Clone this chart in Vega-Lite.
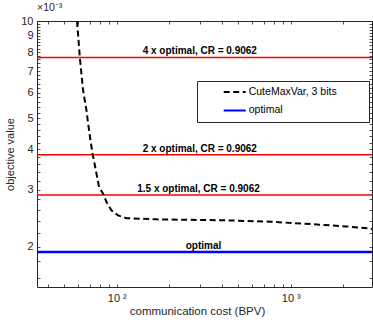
{
  "$schema": "https://vega.github.io/schema/vega-lite/v6.json",
  "width": 335,
  "height": 266,
  "autosize": {"type": "none"},
  "padding": {"left": 37, "top": 21, "right": 1, "bottom": 37},
  "background": "white",
  "view": {"stroke": null},
  "config": {
    "font": "Liberation Sans",
    "axis": {"grid": false, "domainColor": "#262626", "domainWidth": 1, "tickColor": "#262626", "tickWidth": 0.8, "labelColor": "#262626", "titleColor": "#262626", "labelFont": "Liberation Sans", "titleFont": "Liberation Sans", "titleFontWeight": "normal"}
  },
  "title": {"text": "×10⁻³", "anchor": "start", "frame": "group", "fontSize": 10.5, "fontWeight": "normal", "color": "#262626", "offset": 2, "font": "Liberation Sans"},
  "datasets": {
    "curve": [
      {"cost": 59.1, "objective": 0.0100, "series": "CuteMaxVar, 3 bits"},
      {"cost": 61.3, "objective": 0.00775, "series": "CuteMaxVar, 3 bits"},
      {"cost": 64.0, "objective": 0.00611, "series": "CuteMaxVar, 3 bits"},
      {"cost": 66.9, "objective": 0.00530, "series": "CuteMaxVar, 3 bits"},
      {"cost": 68.4, "objective": 0.00483, "series": "CuteMaxVar, 3 bits"},
      {"cost": 70.6, "objective": 0.00428, "series": "CuteMaxVar, 3 bits"},
      {"cost": 72.5, "objective": 0.00390, "series": "CuteMaxVar, 3 bits"},
      {"cost": 75.8, "objective": 0.00345, "series": "CuteMaxVar, 3 bits"},
      {"cost": 79.1, "objective": 0.00306, "series": "CuteMaxVar, 3 bits"},
      {"cost": 83.4, "objective": 0.00292, "series": "CuteMaxVar, 3 bits"},
      {"cost": 87.3, "objective": 0.00275, "series": "CuteMaxVar, 3 bits"},
      {"cost": 93.2, "objective": 0.00259, "series": "CuteMaxVar, 3 bits"},
      {"cost": 101.7, "objective": 0.00250, "series": "CuteMaxVar, 3 bits"},
      {"cost": 113.7, "objective": 0.00245, "series": "CuteMaxVar, 3 bits"},
      {"cost": 169.1, "objective": 0.00243, "series": "CuteMaxVar, 3 bits"},
      {"cost": 408, "objective": 0.002415, "series": "CuteMaxVar, 3 bits"},
      {"cost": 757, "objective": 0.00239, "series": "CuteMaxVar, 3 bits"},
      {"cost": 1468, "objective": 0.00234, "series": "CuteMaxVar, 3 bits"},
      {"cost": 2090, "objective": 0.00231, "series": "CuteMaxVar, 3 bits"},
      {"cost": 2782, "objective": 0.00228, "series": "CuteMaxVar, 3 bits"},
      {"cost": 2930, "objective": 0.00227, "series": "CuteMaxVar, 3 bits"}
    ],
    "refs": [
      {"label": "4 x optimal, CR = 0.9062", "objective": 0.00771, "cost": 300, "kind": "multiple", "series": "4 x optimal"},
      {"label": "2 x optimal, CR = 0.9062", "objective": 0.003855, "cost": 300, "kind": "multiple", "series": "2 x optimal"},
      {"label": "1.5 x optimal, CR = 0.9062", "objective": 0.00289, "cost": 295, "kind": "multiple", "series": "1.5 x optimal"},
      {"label": "optimal", "objective": 0.001927, "cost": 315, "kind": "optimal", "series": "optimal"}
    ]
  },
  "layer": [
    {
      "data": {"name": "refs"},
      "transform": [{"filter": "datum.kind === 'multiple'"}],
      "mark": {"type": "rule", "color": "#ff0000", "strokeWidth": 1.5},
      "encoding": {
        "y": {"field": "objective", "type": "quantitative", "scale": {"type": "log", "domain": [0.0015, 0.01], "nice": false}, "axis": null}
      }
    },
    {
      "data": {"name": "refs"},
      "transform": [{"filter": "datum.kind === 'optimal'"}],
      "mark": {"type": "rule", "strokeWidth": 2.5},
      "encoding": {
        "y": {"field": "objective", "type": "quantitative", "axis": null},
        "color": {"field": "series", "type": "nominal", "title": "\u2002", "scale": {"domain": ["CuteMaxVar, 3 bits", "optimal"], "range": ["#000000", "#0000ff"]}},
        "strokeDash": {"field": "series", "type": "nominal", "title": "\u2002", "scale": {"domain": ["CuteMaxVar, 3 bits", "optimal"], "range": [[6, 3.5], [1, 0]]}}
      }
    },
    {
      "data": {"name": "curve"},
      "mark": {"type": "line", "strokeWidth": 2, "clip": true},
      "encoding": {
        "x": {"field": "cost", "type": "quantitative", "scale": {"type": "log", "domain": [34.8, 2930], "nice": false},
          "title": "communication cost (BPV)",
          "axis": {"values": [40, 50, 60, 70, 80, 90, 100, 200, 300, 400, 500, 600, 700, 800, 900, 1000, 2000],
            "labelExpr": "datum.value == 100 ? '10 ²' : (datum.value == 1000 ? '10 ³' : '')",
            "tickSize": -3, "labelPadding": 8, "labelFontSize": 11, "titleFontSize": 11.5, "titlePadding": 2, "labelFlush": false, "titleX": 160}},
        "y": {"field": "objective", "type": "quantitative",
          "title": "objective value",
          "axis": {"values": [0.0016,0.0018,0.002,0.0022,0.0024,0.0026,0.0028,0.003,0.0032,0.0034,0.0036,0.0038,0.004,0.0042,0.0044,0.0046,0.0048,0.005,0.0052,0.0054,0.0056,0.0058,0.006,0.0062,0.0064,0.0066,0.0068,0.007,0.0072,0.0074,0.0076,0.0078,0.008,0.0082,0.0084,0.0086,0.0088,0.009,0.0092,0.0094,0.0096,0.0098,0.01],
            "labelExpr": "round(datum.value * 10000) % 10 == 0 ? format(datum.value * 1000, 'd') : ''",
            "tickSize": -3, "labelPadding": 7, "labelFontSize": 11, "titleFontSize": 11, "titlePadding": 5, "labelFlush": false}},
        "color": {"field": "series", "type": "nominal", "title": "\u2002",
          "legend": {"orient": "none", "legendX": 160, "legendY": 60, "symbolType": "stroke", "symbolSize": 484, "symbolStrokeWidth": 2, "labelFontSize": 10.5, "labelFont": "Liberation Sans", "labelColor": "#000000", "labelOffset": 2, "padding": 4, "symbolOffset": 21.7, "clipHeight": 14, "rowPadding": 4.4, "strokeColor": "#262626", "fillColor": "#ffffff", "titleOrient": "right", "titlePadding": 28, "titleFontSize": 10}},
        "strokeDash": {"field": "series", "type": "nominal", "title": "\u2002",
          "legend": {"orient": "none", "legendX": 160, "legendY": 60, "symbolType": "stroke", "symbolSize": 484, "symbolStrokeWidth": 2, "labelFontSize": 10.5, "labelFont": "Liberation Sans", "labelColor": "#000000", "labelOffset": 2, "padding": 4, "symbolOffset": 21.7, "clipHeight": 14, "rowPadding": 4.4, "strokeColor": "#262626", "fillColor": "#ffffff", "titleOrient": "right", "titlePadding": 28, "titleFontSize": 10}}
      }
    },
    {
      "data": {"name": "refs"},
      "mark": {"type": "text", "fontWeight": "bold", "fontSize": 10, "color": "#000000", "align": "center", "baseline": "alphabetic", "dy": -3},
      "encoding": {
        "x": {"field": "cost", "type": "quantitative", "axis": null},
        "y": {"field": "objective", "type": "quantitative", "axis": null},
        "text": {"field": "label"}
      }
    },
    {
      "data": {"name": "curve"},
      "mark": {"type": "point", "opacity": 0},
      "encoding": {
        "x": {"field": "cost", "type": "quantitative",
          "axis": {"orient": "top", "title": null, "labels": false, "values": [40, 50, 60, 70, 80, 90, 100, 200, 300, 400, 500, 600, 700, 800, 900, 1000, 2000], "tickSize": -3}},
        "y": {"field": "objective", "type": "quantitative",
          "axis": {"orient": "right", "title": null, "labels": false, "values": [0.0016,0.0018,0.002,0.0022,0.0024,0.0026,0.0028,0.003,0.0032,0.0034,0.0036,0.0038,0.004,0.0042,0.0044,0.0046,0.0048,0.005,0.0052,0.0054,0.0056,0.0058,0.006,0.0062,0.0064,0.0066,0.0068,0.007,0.0072,0.0074,0.0076,0.0078,0.008,0.0082,0.0084,0.0086,0.0088,0.009,0.0092,0.0094,0.0096,0.0098,0.01], "tickSize": -3}}
      }
    }
  ],
  "resolve": {"axis": {"x": "independent", "y": "independent"}}
}
